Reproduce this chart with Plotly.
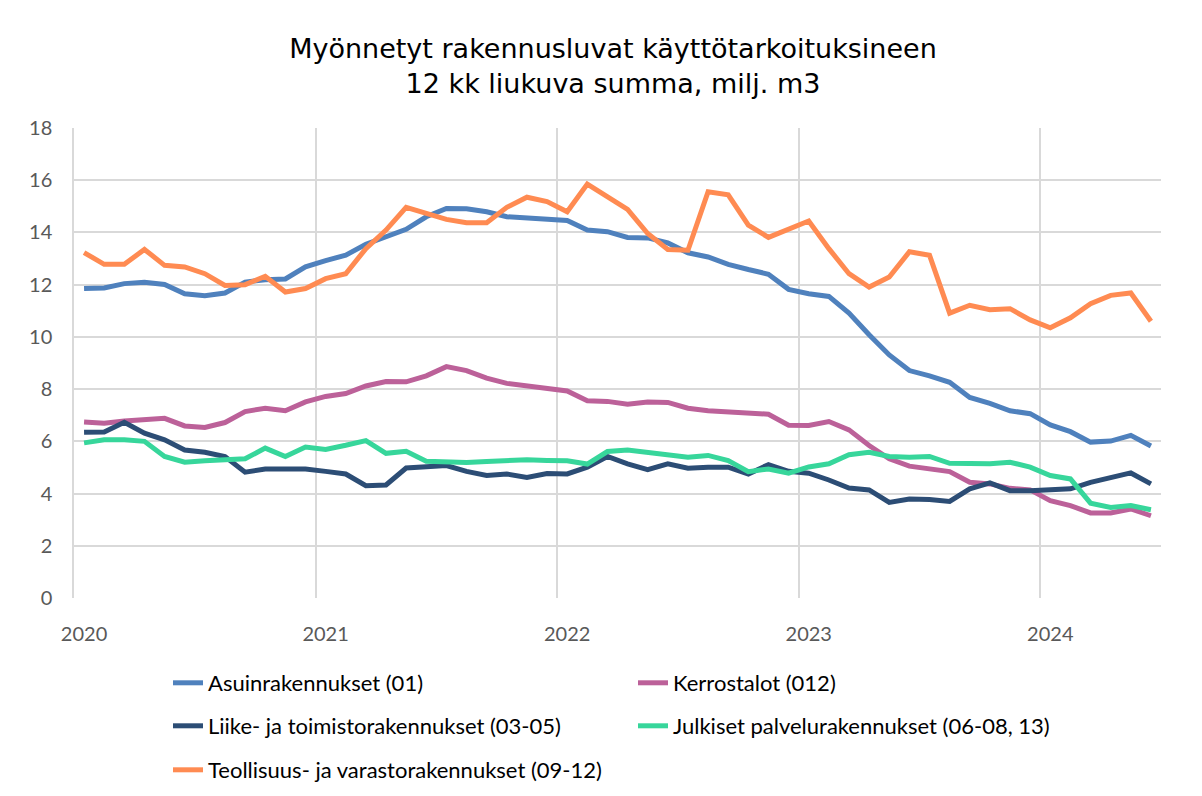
import plotly.graph_objects as go

years = ["2020", "2021", "2022", "2023", "2024"]
n_months = 54

asuin = [11.85, 11.87, 12.04, 12.09, 12.01, 11.65, 11.58, 11.68, 12.10, 12.19, 12.22, 12.68,
         12.92, 13.13, 13.55, 13.83, 14.12, 14.60, 14.92, 14.91, 14.79, 14.60, 14.54, 14.49,
         14.46, 14.09, 14.03, 13.81, 13.79, 13.60, 13.22, 13.06, 12.78, 12.58, 12.40, 11.82,
         11.65, 11.55, 10.91, 10.08, 9.31, 8.71, 8.51, 8.26, 7.68, 7.45, 7.17, 7.06,
         6.63, 6.37, 5.97, 6.01, 6.23, 5.82]
kerros = [6.74, 6.69, 6.78, 6.85, 6.88, 6.59, 6.53, 6.72, 7.14, 7.27, 7.17, 7.51,
          7.72, 7.83, 8.12, 8.29, 8.28, 8.51, 8.86, 8.71, 8.42, 8.22, 8.13, 8.00,
          7.93, 7.55, 7.53, 7.42, 7.51, 7.49, 7.27, 7.17, 7.13, 7.06, 7.04, 6.62,
          6.61, 6.76, 6.44, 5.84, 5.33, 5.05, 4.94, 4.84, 4.43, 4.37, 4.20, 4.14,
          3.73, 3.54, 3.26, 3.26, 3.41, 3.15]
liike = [6.35, 6.36, 6.73, 6.31, 6.06, 5.67, 5.58, 5.42, 4.82, 4.94, 4.94, 4.94,
         4.85, 4.75, 4.30, 4.33, 4.98, 5.01, 5.07, 4.85, 4.69, 4.75, 4.62, 4.77,
         4.75, 5.01, 5.42, 5.14, 4.92, 5.14, 4.97, 5.01, 5.01, 4.75, 5.11, 4.85,
         4.78, 4.52, 4.21, 4.14, 3.66, 3.79, 3.77, 3.70, 4.18, 4.41, 4.11, 4.11,
         4.14, 4.18, 4.43, 4.59, 4.79, 4.37]
julkiset = [5.94, 6.06, 6.06, 6.00, 5.42, 5.20, 5.26, 5.30, 5.33, 5.74, 5.42, 5.78,
            5.69, 5.85, 6.03, 5.54, 5.62, 5.24, 5.23, 5.19, 5.23, 5.26, 5.29, 5.27,
            5.26, 5.13, 5.61, 5.67, 5.58, 5.49, 5.39, 5.46, 5.26, 4.84, 4.94, 4.78,
            5.02, 5.14, 5.49, 5.58, 5.42, 5.39, 5.42, 5.16, 5.17, 5.14, 5.20, 5.01,
            4.69, 4.56, 3.63, 3.47, 3.54, 3.38]
teollisuus = [13.23, 12.78, 12.78, 13.35, 12.74, 12.68, 12.42, 11.97, 12.00, 12.32, 11.72, 11.85,
              12.23, 12.42, 13.38, 14.09, 14.96, 14.73, 14.50, 14.37, 14.37, 14.96, 15.35, 15.18,
              14.79, 15.85, 15.37, 14.88, 13.96, 13.35, 13.32, 15.56, 15.44, 14.28, 13.81, 14.10,
              14.44, 13.38, 12.42, 11.91, 12.29, 13.26, 13.13, 10.91, 11.21, 11.04, 11.08, 10.65,
              10.35, 10.73, 11.27, 11.59, 11.68, 10.60]

series_names = ["Asuinrakennukset (01)", "Kerrostalot (012)",
                "Liike- ja toimistorakennukset (03-05)", "Julkiset palvelurakennukset (06-08, 13)",
                "Teollisuus- ja varastorakennukset (09-12)"]
series_values = [asuin, kerros, liike, julkiset, teollisuus]
series_colors = ["#4F81BD", "#BC6199", "#2C4D75", "#37D69B", "#FF8B52"]
legend_ids = ["legend", "legend", "legend2", "legend2", "legend3"]

x = list(range(n_months))

fig = go.Figure()
for name, vals, col, lg in zip(series_names, series_values, series_colors, legend_ids):
    fig.add_trace(go.Scatter(x=x, y=vals, mode="lines", name=name,
                             line=dict(color=col, width=5), legend=lg))

# page body has an 8px margin; work in screen coordinates and convert
OFF = 8
W, H = 1202 - 2 * OFF, 796 - 2 * OFF
plot_l, plot_r, plot_t, plot_b = 74 - OFF, 1161 - OFF, 128 - OFF, 598 - OFF
ml, mr, mt, mb = plot_l, W - plot_r, plot_t, H - plot_b
pw, ph = W - ml - mr, H - mt - mb

def scr_to_paper_y(sy):
    return (plot_b - (sy - OFF)) / ph

def scr_to_paper_x(sx):
    return ((sx - OFF) - plot_l) / pw

legend_font = dict(family="Lato, 'Open Sans', sans-serif", size=22, color="#000000")
leg_common = dict(orientation="h", xanchor="left", yanchor="middle",
                  entrywidth=420, entrywidthmode="pixels", font=legend_font,
                  bgcolor="rgba(0,0,0,0)", traceorder="normal")

tick_font = dict(family="Lato, 'Open Sans', sans-serif", size=20, color="#595959")

fig.update_layout(
    width=W, height=H,
    margin=dict(l=ml, r=mr, t=mt, b=mb, autoexpand=False),
    paper_bgcolor="white", plot_bgcolor="white",
    title=dict(text="Myönnetyt rakennusluvat käyttötarkoituksineen<br>12 kk liukuva summa, milj. m3",
               x=(613 - OFF) / W, xanchor="center", y=1 - (57.5 - OFF) / H, yanchor="middle",
               font=dict(family="DejaVu Sans, Verdana, sans-serif", size=27, color="#000000")),
    legend=dict(x=scr_to_paper_x(168), y=scr_to_paper_y(683), **leg_common),
    legend2=dict(x=scr_to_paper_x(168), y=scr_to_paper_y(726), **leg_common),
    legend3=dict(x=scr_to_paper_x(168), y=scr_to_paper_y(770), **leg_common),
    showlegend=True,
)

fig.update_xaxes(
    range=[-0.5, n_months - 0.5],
    tickvals=[0, 12, 24, 36, 48], ticktext=years,
    showgrid=False, zeroline=False, ticks="",
    ticklabelstandoff=22,
    tickfont=tick_font,
    minor=dict(tickvals=[-0.5, 11.5, 23.5, 35.5, 47.5], showgrid=True,
               gridcolor="#D9D9D9", gridwidth=1.5, ticks=""),
    showline=False,
)
fig.update_yaxes(
    range=[0, 18], dtick=2, tick0=0,
    showgrid=True, gridcolor="#D9D9D9", gridwidth=1.5,
    zeroline=False, ticks="",
    ticklabelstandoff=16,
    showline=True, linecolor="#D9D9D9", linewidth=1.5,
    tickfont=tick_font,
)

fig.write_html("out.html")
